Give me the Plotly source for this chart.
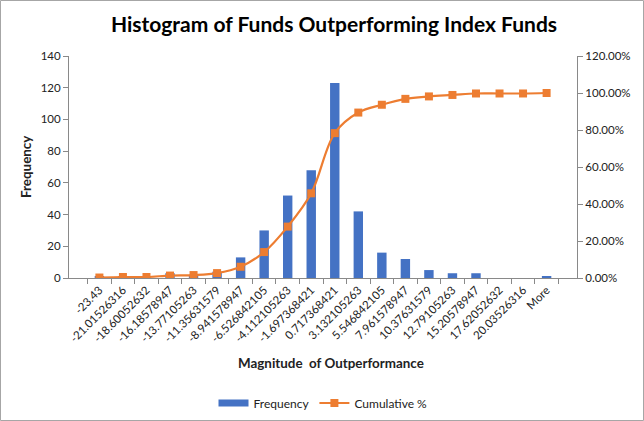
import plotly.graph_objects as go

categories = ["-23.43", "-21.01526316", "-18.60052632", "-16.18578947", "-13.77105263",
              "-11.35631579", "-8.941578947", "-6.526842105", "-4.112105263", "-1.697368421",
              "0.717368421", "3.132105263", "5.546842105", "7.961578947", "10.37631579",
              "12.79105263", "15.20578947", "17.62052632", "20.03526316", "More"]
frequency = [1, 1, 0, 3, 1, 4, 13, 30, 52, 68, 123, 42, 16, 12, 5, 3, 3, 0, 0, 1]
cumulative_pct = [0.0026, 0.0053, 0.0053, 0.0132, 0.0159, 0.0265, 0.0608, 0.1402, 0.2778,
                  0.4577, 0.7831, 0.8942, 0.9365, 0.9683, 0.9815, 0.9894, 0.9974, 0.9974,
                  0.9974, 1.0]
freq_ticks = [0, 20, 40, 60, 80, 100, 120, 140]
pct_ticks = [0, 0.2, 0.4, 0.6, 0.8, 1.0, 1.2]

FONT = "Lato"
BLUE = "#4472C4"
ORANGE = "#ED7D31"
AXIS = "#898989"
TXT = "#222222"

W, H = 644, 421
L, R, T, B = 69, 67, 56, 143
PW, PH = W - L - R, H - T - B

def px_x(x):
    return (x - L) / PW

def px_y(y):
    return (H - B - y) / PH

fig = go.Figure()
fig.add_trace(go.Bar(x=categories, y=frequency, name="Frequency", showlegend=False,
                     marker=dict(color=BLUE, line=dict(width=0))))
# legend entry for bars drawn as a wide rectangle like the reference
fig.add_trace(go.Scatter(x=[None], y=[None], name="Frequency", mode="lines",
                         line=dict(color=BLUE, width=7), hoverinfo="skip"))
fig.add_trace(go.Scatter(x=categories, y=cumulative_pct, name="Cumulative %", yaxis="y2",
                         mode="lines+markers", line=dict(color=ORANGE, width=2.2, shape="spline"),
                         marker=dict(symbol="square", size=8, color=ORANGE)))

fig.update_layout(
    width=W, height=H,
    margin=dict(l=L, r=R, t=T, b=B, autoexpand=False),
    paper_bgcolor="white", plot_bgcolor="white",
    font=dict(family=FONT, size=11.5, color=TXT),
    bargap=0.6,
    showlegend=True,
    legend=dict(orientation="h", x=px_x(323), xanchor="center", y=px_y(403), yanchor="middle",
                font=dict(size=12, color=TXT), itemwidth=30, tracegroupgap=0),
    title=dict(text="<b>Histogram of Funds Outperforming Index Funds</b>",
               x=334 / W, xanchor="center", y=1 - 25 / H, yanchor="middle",
               font=dict(family=FONT, size=21, color="#000000")),
    xaxis=dict(type="category", showline=True, linecolor=AXIS, linewidth=1,
               ticks="outside", tickson="boundaries", ticklen=5, tickcolor=AXIS,
               tickangle=-45, tickfont=dict(size=11.5, color=TXT), showgrid=False,
               zeroline=False),
    yaxis=dict(range=[0, 140], tickvals=freq_ticks, showline=True, linecolor=AXIS,
               ticks="outside", ticklen=5, tickcolor=AXIS, showgrid=False, zeroline=False,
               tickfont=dict(size=11.5, color=TXT)),
    yaxis2=dict(range=[0, 1.2], tickvals=pct_ticks, tickformat=".2%", overlaying="y",
                side="right", showline=True, linecolor=AXIS, ticks="outside", ticklen=5,
                tickcolor=AXIS, showgrid=False, zeroline=False,
                tickfont=dict(size=11.5, color=TXT)),
    annotations=[
        dict(text="<b>Magnitude  of Outperformance</b>", xref="paper", yref="paper",
             x=px_x(331), y=px_y(363), xanchor="center", yanchor="middle",
             showarrow=False, font=dict(size=13.4, color=TXT)),
        dict(text="<b>Frequency</b>", xref="paper", yref="paper", textangle=-90,
             x=px_x(26), y=px_y(167), xanchor="center", yanchor="middle",
             showarrow=False, font=dict(size=13.4, color=TXT)),
    ],
    shapes=[dict(type="rect", xref="paper", yref="paper",
                 x0=px_x(0.5), x1=px_x(643.5), y0=px_y(420.5), y1=px_y(0.5),
                 line=dict(color="#A6A6A6", width=1), fillcolor="rgba(0,0,0,0)")],
)

fig.write_html("out.html", config={"displayModeBar": False},
               post_script="document.body.style.margin='0';document.body.style.overflow='hidden';")
